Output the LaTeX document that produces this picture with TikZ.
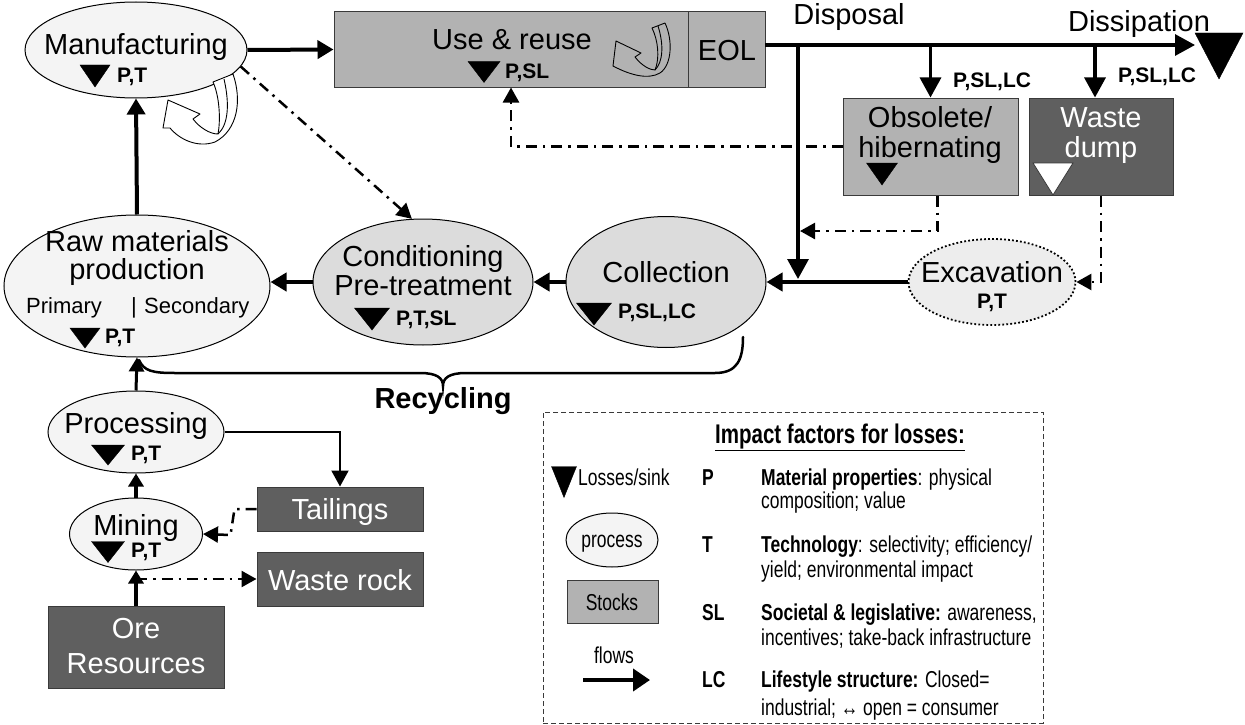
\documentclass[tikz,border=0pt]{standalone}
\usepackage{fontspec}
\setmainfont{Liberation Sans}
\newfontfamily\narrowfont[FakeStretch=0.76]{Liberation Sans}
\usetikzlibrary{arrows.meta,shapes.geometric,calc}
\definecolor{procfill}{HTML}{F4F4F4}
\definecolor{recfill}{HTML}{DCDCDC}
\definecolor{excfill}{HTML}{EDEDED}
\definecolor{stockfill}{HTML}{B2B2B2}
\definecolor{darkfill}{HTML}{5F5F5F}
\definecolor{edgegray}{HTML}{3A3A3A}
\newcommand\fbig{\fontsize{29}{33}\selectfont}
\newcommand\fmid{\fontsize{22}{26}\selectfont}
\newcommand\fpt{\fontsize{21}{24}\selectfont\bfseries}
\newcommand\fleg{\narrowfont\fontsize{23}{26}\selectfont}
\newcommand\losstri[5]{\filldraw[#5] ({#1-#3/2},{#2-#4/2}) -- ({#1+#3/2},{#2-#4/2}) -- (#1,{#2+#4/2}) -- cycle;}
\begin{document}
\begin{tikzpicture}[x=1pt,y=-1pt,
  txt/.style={inner sep=0pt, anchor=base},
  ltxt/.style={inner sep=0pt, anchor=base west},
  proc/.style={ellipse, draw=black, line width=1pt, fill=procfill, inner sep=0pt},
  recproc/.style={proc, fill=recfill},
  stock/.style={rectangle, draw=edgegray, line width=1pt, fill=stockfill, inner sep=0pt},
  darkstock/.style={rectangle, draw=edgegray, line width=1pt, fill=darkfill, inner sep=0pt},
  flow/.style={line width=4pt, -{Triangle[length=16pt,width=18pt]}},
  midflow/.style={line width=3.2pt, -{Triangle[length=20pt,width=21pt]}},
  thinflow/.style={line width=2pt, -{Triangle[length=16pt,width=17pt]}},
  ddot/.style={line width=2.5pt, dash pattern=on 11pt off 6pt on 2.5pt off 6pt, -{Triangle[length=15pt,width=16pt]}},
  hollow/.style={draw=black, line width=0.9pt, line join=round}
]
\fill[white] (0,0) rectangle (1245,725);
\useasboundingbox (0,0) rectangle (1245,725);

% ---------- nodes ----------
\node[proc, minimum width=222, minimum height=96] (manu) at (136,50) {};
\node[stock, minimum width=354, minimum height=75] (usebox) at (511,49.5) {};
\node[stock, minimum width=77, minimum height=75] (eolbox) at (726.5,49.5) {};
\node[stock, minimum width=175, minimum height=97] (obsbox) at (930.5,146.5) {};
\node[darkstock, minimum width=144, minimum height=97] (dumpbox) at (1101,146.5) {};
\node[proc, fill=excfill, draw=black, line width=1.8pt, dash pattern=on 1.8pt off 2.2pt, minimum width=167, minimum height=86] (exc) at (992,282) {};
\node[recproc, minimum width=200, minimum height=131] (coll) at (666,282) {};
\node[recproc, minimum width=220, minimum height=126] (cond) at (423,282) {};
\node[proc, minimum width=266, minimum height=142] (raw) at (137,286) {};
\node[proc, minimum width=176, minimum height=82] (procn) at (136,432) {};
\node[proc, minimum width=133, minimum height=72] (mine) at (136,534) {};
\node[darkstock, minimum width=166, minimum height=44] (tailbox) at (340,509) {};
\node[darkstock, minimum width=166, minimum height=54] (rockbox) at (340,579) {};
\node[darkstock, minimum width=176, minimum height=82] (orebox) at (136,647) {};

% ---------- hollow loop arrows ----------
\filldraw[hollow, fill=white] (168,100) -- (200,114) -- (193,119) .. controls (200,128) and (210,134) .. (218,134) .. controls (221,118) and (219,95) .. (213,82) -- (233,74) .. controls (242,100) and (238,130) .. (215,142) .. controls (198,148) and (180,140) .. (170,128) -- (163,128) -- cycle;
\draw[hollow] (224,79) .. controls (230,105) and (228,125) .. (218,134);
\filldraw[hollow, fill=stockfill] (616,41) -- (641,53) -- (635,57) .. controls (642,66) and (650,70) .. (655,70) .. controls (660,58) and (658,40) .. (652,28) -- (665,23) .. controls (673,40) and (672,65) .. (660,73) .. controls (648,80) and (630,75) .. (613,66) -- cycle;
\draw[hollow] (658,26) .. controls (664,45) and (663,62) .. (655,70);

% ---------- texts ----------
\node[txt, font=\fbig] (tmanu) at (136,55) {Manufacturing};
\losstri{95}{76}{30}{22}{black}
\node[ltxt, font=\fpt] (tmanupt) at (117,82) {P,T};

\node[txt, font=\fbig] (tuse) at (512,50) {Use \& reuse};
\losstri{484}{72}{32}{21}{black}
\node[ltxt, font=\fpt] (tusept) at (505,78) {P,SL};
\node[txt, font=\fbig] (teol) at (727,60) {EOL};

\node[txt, font=\fbig] (tdisp) at (849,25) {Disposal};
\node[txt, font=\fbig] (tdiss) at (1139,32) {Dissipation};
\losstri{1219}{56}{48}{46}{black}
\node[ltxt, font=\fpt] (tpsl1) at (953,88) {P,SL,LC};
\node[ltxt, font=\fpt] (tpsl2) at (1118,82) {P,SL,LC};

\node[txt, font=\fbig] (tobs1) at (930,127) {Obsolete/};
\node[txt, font=\fbig] (tobs2) at (930,157) {hibernating};
\losstri{882}{174}{31}{22}{black}
\node[txt, font=\fbig, text=white] (twaste) at (1101,127) {Waste};
\node[txt, font=\fbig, text=white] (tdump) at (1101,157) {dump};
\losstri{1053}{179}{40}{32}{fill=white, draw=edgegray, line width=0.8pt}

\node[txt, font=\fbig] (texc) at (992,282) {Excavation};
\node[txt, font=\fpt] (texcpt) at (992,308) {P,T};

\node[txt, font=\fbig] (tcoll) at (666,282) {Collection};
\losstri{594}{314}{35}{22}{black}
\node[ltxt, font=\fpt] (tcollpt) at (618,318) {P,SL,LC};

\node[txt, font=\fbig] (tcond1) at (423,266) {Conditioning};
\node[txt, font=\fbig] (tcond2) at (423,295) {Pre-treatment};
\losstri{372}{319}{35}{22}{black}
\node[ltxt, font=\fpt] (tcondpt) at (396,325) {P,T,SL};

\node[txt, font=\fbig] (traw1) at (137,251) {Raw materials};
\node[txt, font=\fbig] (traw2) at (137,279) {production};
\node[ltxt, font=\fmid] (tprim) at (26,313) {Primary};
\node[ltxt, font=\fmid] (tbar) at (131,313) {|};
\node[ltxt, font=\fmid] (tsec) at (144,313) {Secondary};
\losstri{85}{338}{30}{20}{black}
\node[ltxt, font=\fpt] (trawpt) at (105,343) {P,T};

\node[txt, font=\fbig\bfseries] (trecy) at (443,408) {Recycling};

\node[txt, font=\fbig] (tproc) at (136,433) {Processing};
\losstri{108}{455}{33}{20}{black}
\node[ltxt, font=\fpt] (tprocpt) at (131,460) {P,T};

\node[txt, font=\fbig] (tmine) at (136,535) {Mining};
\losstri{108}{552}{33}{21}{black}
\node[ltxt, font=\fpt] (tminept) at (131,557) {P,T};

\node[txt, font=\fbig, text=white] (ttail) at (340,519) {Tailings};
\node[txt, font=\fbig, text=white] (trock) at (340,590) {Waste rock};
\node[txt, font=\fbig, text=white] (tore1) at (136,638) {Ore};
\node[txt, font=\fbig, text=white] (tore2) at (136,673) {Resources};

% ---------- connectors ----------
\coordinate (dstart) at (765,45);
\coordinate (jA) at (798,45);
\coordinate (jB) at (930.5,45);
\coordinate (jC) at (1095,45);
\coordinate (dend) at (1195,45);
\coordinate (vj) at (800,231);
\coordinate (vend) at (798,279);

\draw[flow] (manu.east) -- (usebox.west);
\draw[flow] (raw.north) -- (manu.south);
\draw[flow] (coll.west) -- (cond.east);
\draw[flow] (cond.west) -- (cond.west -| raw.east);
\draw[midflow] (dstart) -- (dend);
\draw[midflow] (jB) -- (obsbox.north);
\draw[midflow] (jC) -- (jC |- dumpbox.north);
\draw[midflow] (jA) -- (vend);
\draw[line width=3.2pt] (jA |- coll.east) -- (exc.west);
\draw[flow] (jA |- coll.east) -- (coll.east);

\draw[ddot] (manu.-9) -- (cond.100);
\draw[ddot] (obsbox.west) -| (usebox.south);
\draw[ddot] ([xshift=7pt]obsbox.south) |- (vj);
\draw[ddot] (dumpbox.south) |- (exc.east);

\draw[line width=3pt, -{Triangle[length=14pt,width=15pt]}] (procn.north) -- (raw.south);
\draw[thinflow] (procn.east) -| (tailbox.north);
\draw[line width=3.5pt, -{Triangle[length=13pt,width=15pt]}] (mine.north) -- (procn.south);
\draw[line width=3.5pt, -{Triangle[length=13pt,width=15pt]}] (orebox.north) -- (mine.south);
\draw[ddot] (tailbox.west) -- ++(-22,0) -- ++(-4,26) -- (mine.east);
\draw[ddot] (mine.south |- rockbox.west) -- (rockbox.west);

% recycling brace
\draw[line width=2.5pt, line cap=round] (139,360) .. controls (144,371) and (152,373) .. (175,373) -- (420,373) .. controls (437,373) and (443,378) .. (443,386) .. controls (443,378) and (449,373) .. (466,373) -- (715,373) .. controls (737,373) and (743,360) .. (743,337);

% ---------- legend ----------
\node[draw=edgegray, line width=1pt, dash pattern=on 5pt off 3pt, minimum width=500, minimum height=311, inner sep=0pt] (legend) at (793,567.5) {};
\node[txt, font=\narrowfont\fontsize{27}{30}\selectfont\bfseries] (timpact) at (840,443) {\underline{Impact factors for losses:}};
\losstri{564}{482}{25}{31}{black}
\node[ltxt, font=\fleg] (tloss) at (578,485) {Losses/sink};
\node[proc, minimum width=92, minimum height=54] (legproc) at (612,540) {};
\node[txt, font=\fleg] (tlegproc) at (612,547) {process};
\node[stock, minimum width=91, minimum height=43] (legstock) at (612.5,601.5) {};
\node[txt, font=\fleg] (tlegstock) at (612,610) {Stocks};
\node[txt, font=\fleg] (tflows) at (614,663) {flows};
\coordinate (flA) at (583,680);
\coordinate (flB) at (650,680);
\draw[line width=4pt, -{Triangle[length=17pt,width=22pt]}] (flA) -- (flB);

\node[ltxt, font=\fleg\bfseries] (lp) at (702,485) {P};
\node[ltxt, font=\fleg\bfseries] (lt) at (702,552) {T};
\node[ltxt, font=\fleg\bfseries] (lsl) at (702,620) {SL};
\node[ltxt, font=\fleg\bfseries] (llc) at (702,687) {LC};
\node[ltxt, font=\fleg] (d1a) at (761,485) {\textbf{Material properties}: physical};
\node[ltxt, font=\fleg] (d1b) at (761,508) {composition; value};
\node[ltxt, font=\fleg] (d2a) at (761,552) {\textbf{Technology}: selectivity; efficiency/};
\node[ltxt, font=\fleg] (d2b) at (761,577) {yield; environmental impact};
\node[ltxt, font=\fleg] (d3a) at (761,620) {\textbf{Societal \& legislative:} awareness,};
\node[ltxt, font=\fleg] (d3b) at (761,645) {incentives; take-back infrastructure};
\node[ltxt, font=\fleg] (d4a) at (761,687) {\textbf{Lifestyle structure:} Closed=};
\node[ltxt, font=\fleg] (d4b) at (761,715) {industrial; ↔ open = consumer};
\end{tikzpicture}
\end{document}
